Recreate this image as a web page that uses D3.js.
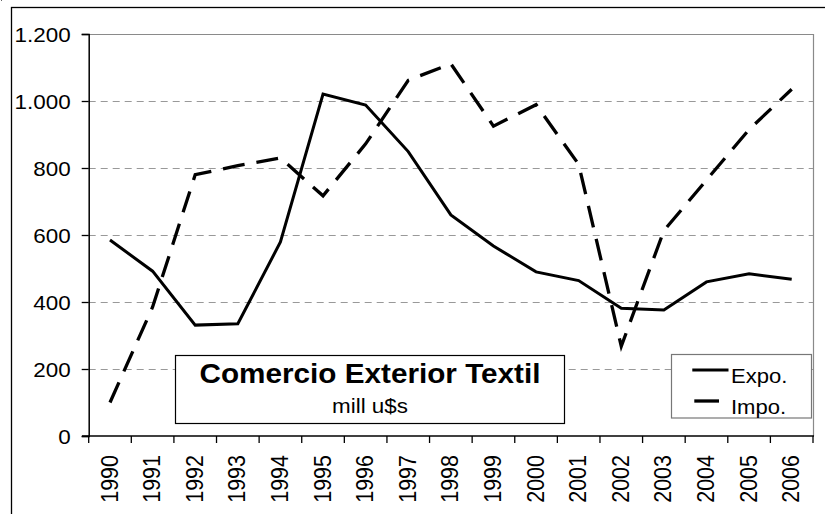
<!DOCTYPE html>
<html>
<head>
<meta charset="utf-8">
<script src="https://cdn.jsdelivr.net/npm/d3@7"></script>
<style>
  html, body { margin: 0; padding: 0; background: #fff; }
  svg { display: block; }
  text { font-family: "Liberation Sans", Arial, sans-serif; fill: #000; }
</style>
</head>
<body>
<svg id="chart" width="825" height="514"></svg>
<script>
// Textile foreign trade, million US$
const years = ["1990","1991","1992","1993","1994","1995","1996","1997","1998","1999",
               "2000","2001","2002","2003","2004","2005","2006"];
const expo = [585, 492, 331, 335, 579, 1021, 988, 849, 660, 567, 490, 464, 381, 376, 460, 484, 468];
const impo = [100, 385, 780, 807, 830, 717, 872, 1062, 1111, 925, 989, 811, 268, 613, 764, 915, 1035];
const yTicks = [0, 200, 400, 600, 800, 1000, 1200];
const seriesNames = ["Expo.", "Impo."];
const titleText = "Comercio Exterior Textil";
const subtitleText = "mill u$s";

const svg = d3.select("#chart");
const plot = { left: 88.7, right: 813, top: 34, bottom: 436 };
const sx = 1.12; // horizontal glyph stretch

const x = d3.scaleBand().domain(years).range([plot.left, plot.right]).padding(0);
const y = d3.scaleLinear().domain([0, 1200]).range([plot.bottom, plot.top]);
const fmt = v => d3.format(",")(v).replace(/,/g, ".");

// outer frame
svg.append("rect").attr("x", 11.5).attr("y", 7.5).attr("width", 900).attr("height", 600)
  .attr("fill", "none").attr("stroke", "#000").attr("stroke-width", 1.3);
svg.append("rect").attr("x", 1).attr("y", 0).attr("width", 1).attr("height", 1).attr("fill", "#666");

// plot frame (top and right, gray)
svg.append("path")
  .attr("d", `M${plot.left},${plot.top + 0.5}H${plot.right + 0.5}V${plot.bottom}`)
  .attr("fill", "none").attr("stroke", "#8a8a8a").attr("stroke-width", 1.2);

// gridlines
svg.append("g").selectAll("line").data(yTicks.filter(d => d > 0 && d < 1200)).join("line")
  .attr("x1", plot.left).attr("x2", plot.right)
  .attr("y1", d => Math.round(y(d)) + 0.5).attr("y2", d => Math.round(y(d)) + 0.5)
  .attr("stroke", "#999").attr("stroke-width", 1).attr("stroke-dasharray", "7,5");

// y axis
const yAxis = d3.axisLeft(y).tickValues(yTicks).tickSize(7).tickFormat(fmt).tickPadding(11);
const gy = svg.append("g").attr("transform", `translate(${plot.left},0)`).call(yAxis);
gy.select(".domain").attr("stroke", "#000").attr("stroke-width", 1.5);
gy.selectAll(".tick line").attr("stroke", "#000").attr("stroke-width", 1.3);
gy.selectAll(".tick text").each(function() {
  const t = d3.select(this);
  t.attr("font-size", 19.5).attr("font-family", "Liberation Sans, Arial, sans-serif")
   .attr("x", 0).attr("dy", "0.36em")
   .attr("transform", `translate(-18,0) scale(1.15,1)`);
});

// x axis: ticks at band edges
const gx = svg.append("g");
gx.append("line").attr("x1", 82).attr("x2", plot.right + 1)
  .attr("y1", plot.bottom).attr("y2", plot.bottom).attr("stroke", "#000").attr("stroke-width", 1.5);
const edges = years.map(d => x(d)).concat([x(years[years.length - 1]) + x.bandwidth()]);
gx.selectAll("line.tk").data(edges).join("line").attr("class", "tk")
  .attr("x1", d => d).attr("x2", d => d)
  .attr("y1", plot.bottom).attr("y2", plot.bottom + 7)
  .attr("stroke", "#000").attr("stroke-width", 1.3);
gx.selectAll("text").data(years).join("text")
  .attr("transform", d => `translate(${x(d) + x.bandwidth() / 2 + 7.5},455) scale(${sx},1) rotate(-90)`)
  .attr("text-anchor", "end").attr("font-size", 21.5).text(d => d);

// lines
const line = d3.line().x((d, i) => x(years[i]) + x.bandwidth() / 2).y(d => y(d));
svg.append("path").datum(expo).attr("d", line)
  .attr("fill", "none").attr("stroke", "#000").attr("stroke-width", 3);
svg.append("path").datum(impo).attr("d", line)
  .attr("fill", "none").attr("stroke", "#000").attr("stroke-width", 3.3)
  .attr("stroke-dasharray", "22,12");

// title box
const tb = svg.append("g");
tb.append("rect").attr("x", 175.5).attr("y", 355.5).attr("width", 389).attr("height", 68)
  .attr("fill", "#fff").attr("stroke", "#000").attr("stroke-width", 1.2);
tb.append("text").attr("transform", `translate(370,383) scale(1.1,1)`)
  .attr("text-anchor", "middle").attr("font-size", 27).attr("font-weight", "bold").text(titleText);
tb.append("text").attr("transform", `translate(370,412.5) scale(${sx},1)`)
  .attr("text-anchor", "middle").attr("font-size", 20).text(subtitleText);

// legend
const lg = svg.append("g");
lg.append("rect").attr("x", 671.5).attr("y", 354.5).attr("width", 140).attr("height", 63.5)
  .attr("fill", "#fff").attr("stroke", "#777").attr("stroke-width", 1.2);
const legendRows = [
  { name: seriesNames[0], y: 370, dash: false },
  { name: seriesNames[1], y: 401, dash: true }
];
legendRows.forEach(r => {
  lg.append("line").attr("x1", r.dash ? 694.3 : 692.3).attr("x2", r.dash ? 719 : 728.5)
    .attr("y1", r.y).attr("y2", r.y).attr("stroke", "#000").attr("stroke-width", r.dash ? 3.3 : 3);
  lg.append("text").attr("transform", `translate(731,${r.y + 12.5}) scale(1.05,1)`)
    .attr("font-size", 21).text(r.name);
});
</script>
</body>
</html>
